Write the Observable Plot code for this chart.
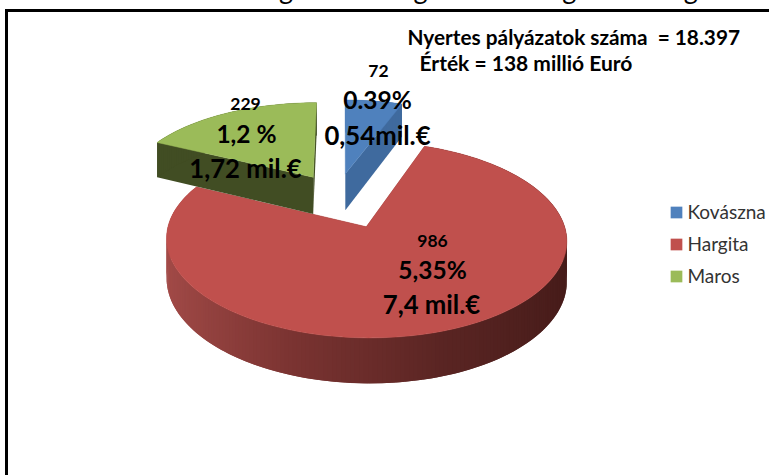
<!DOCTYPE html>
<html>
<head>
<meta charset="utf-8">
<script src="https://cdn.jsdelivr.net/npm/d3@7"></script>
<script src="https://cdn.jsdelivr.net/npm/@observablehq/plot@0.6"></script>
<style>html,body{margin:0;padding:0;background:#fff}svg{display:block}</style>
</head>
<body>
<div id="chart"></div>
<script>
const counties = ["Kovászna", "Hargita", "Maros"];
const winners = [72, 986, 229];
const shares = ["0.39%", "5,35%", "1,2 %"];
const amounts = ["0,54mil.€", "7,4 mil.€", "1,72 mil.€"];
const topColors = ["#4f81bd", "#c0504d", "#9bbb59"];
const cutColors = ["#3f6a9e", "#6a2c2a", "#414d23"];
const title = "A kiosztott támogatások megoszlása a régiók összegében";
const note1 = "Nyertes pályázatok száma  = 18.397";
const note2 = "Érték = 138 millió Euró";

// layout of the 3D view
const W = 769, H = 475;
const view = {x0: 343, y0: 199.5, sx: 191, sy: 89.4, k: 0.128, depth: 38};
const explodeX = [0.01, 0.115, -0.164], explodeZ = [0.305, -0.288, 0.264];
const drawOrder = [1, 2, 0];
const labelAt = [
  {count: [378, 71], share: [377, 101], amount: [377, 136]},
  {count: [432, 241], share: [432, 271], amount: [431, 305]},
  {count: [245, 104], share: [246, 135], amount: [245, 169]}
];
const legendY = [212, 244, 276];

const project = (X, Z, low) => {
  const p = 1 + view.k * Z;
  return {x: view.x0 + view.sx * X / p, y: view.y0 + (-view.sy * Z + (low ? view.depth : 0)) / p};
};
const arcs = d3.pie().sort(null)(winners);
const pt = (i, a, r, low) =>
  project(explodeX[i] + r * Math.sin(a), explodeZ[i] + r * Math.cos(a), low);
const steps = (a0, a1) => {
  const n = Math.max(2, Math.ceil((a1 - a0) / 0.02));
  return d3.range(n + 1).map(j => a0 + (a1 - a0) * j / n);
};
const shade = d3.scaleLinear()
  .domain([-1, -0.33, 0.32, 1])
  .range(["#a34b48", "#7a3331", "#5a2523", "#451b19"]);

const sidePolys = [], topPolys = [];
drawOrder.forEach(i => {
  const {startAngle: a0, endAngle: a1} = arcs[i];
  const sides = [];
  const add = (id, fill, pts) => pts.forEach(p => sides.push({...p, id, fill}));
  [a0, a1].forEach((a, e) => add(`${i}-cut-${e}`, cutColors[i],
    [pt(i, a, 0, false), pt(i, a, 1, false), pt(i, a, 1, true), pt(i, a, 0, true), pt(i, a, 0, false)]));
  const as = steps(a0, a1);
  // each strip runs under the next one, so no seam shows between them
  d3.pairs(as).forEach(([u, v], s) => {
    const w = Math.min(a1, v + 0.02);
    add(`${i}-arc-${s}`,
      i === 1 ? shade(Math.sin((u + v) / 2)) : cutColors[i],
      [pt(i, u, 1, false), pt(i, w, 1, false), pt(i, w, 1, true), pt(i, u, 1, true)]);
  });
  sidePolys.push(sides);
  const top = [pt(i, a0, 0, false), ...as.map(a => pt(i, a, 1, false))].map(p => ({...p, fill: topColors[i]}));
  top.push(top[0]);
  topPolys.push(top);
});

const labels = counties.flatMap((c, i) => [
  {t: String(winners[i]), p: labelAt[i].count, size: 17.5},
  {t: shares[i], p: labelAt[i].share, size: 24.5},
  {t: amounts[i], p: labelAt[i].amount, size: 25.7}
]);
const legend = counties.map((c, i) => ({c, color: topColors[i], y: legendY[i]}));

const faceMarks = drawOrder.flatMap((_, n) => [
  Plot.line(sidePolys[n], {x: "x", y: "y", z: "id", fill: "fill"}),
  Plot.line(topPolys[n], {x: "x", y: "y", fill: "fill", stroke: "fill", strokeWidth: 0.5})
]);

const chart = Plot.plot({
  width: W, height: H, margin: 0,
  x: {domain: [0, W], range: [0, W], axis: null},
  y: {domain: [0, H], range: [0, H], axis: null},
  color: {type: "identity"},
  style: {fontFamily: "Lato, Carlito, sans-serif", background: "#fff"},
  marks: [
    Plot.text([title], {x: () => 420, y: () => 0, text: d => d, fontSize: 27, fill: "#000", lineAnchor: "bottom", dy: -2}),
    Plot.ruleY([10], {x1: 5, x2: W, stroke: "#000", strokeWidth: 3}),
    Plot.ruleX([6], {y1: 9, y2: H, stroke: "#000", strokeWidth: 3}),
    ...faceMarks,
    Plot.text(labels, {x: d => d.p[0], y: d => d.p[1], text: "t", fontSize: "size", fontWeight: 700, fill: "#000", lineAnchor: "middle"}),
    Plot.text([note1], {x: () => 407, y: () => 38, text: d => d, textAnchor: "start", fontSize: 20.8, fontWeight: 700, fill: "#000", lineAnchor: "middle"}),
    Plot.text([note2], {x: () => 419, y: () => 64, text: d => d, textAnchor: "start", fontSize: 21, fontWeight: 700, fill: "#000", lineAnchor: "middle"}),
    Plot.dot(legend, {x: () => 676, y: "y", symbol: "square", r: 6.6, fill: "color"}),
    Plot.text(legend, {x: () => 687, y: "y", text: "c", textAnchor: "start", fontSize: 19, fill: "#333", lineAnchor: "middle"})
  ]
});
document.getElementById("chart").append(chart);
</script>
</body>
</html>
